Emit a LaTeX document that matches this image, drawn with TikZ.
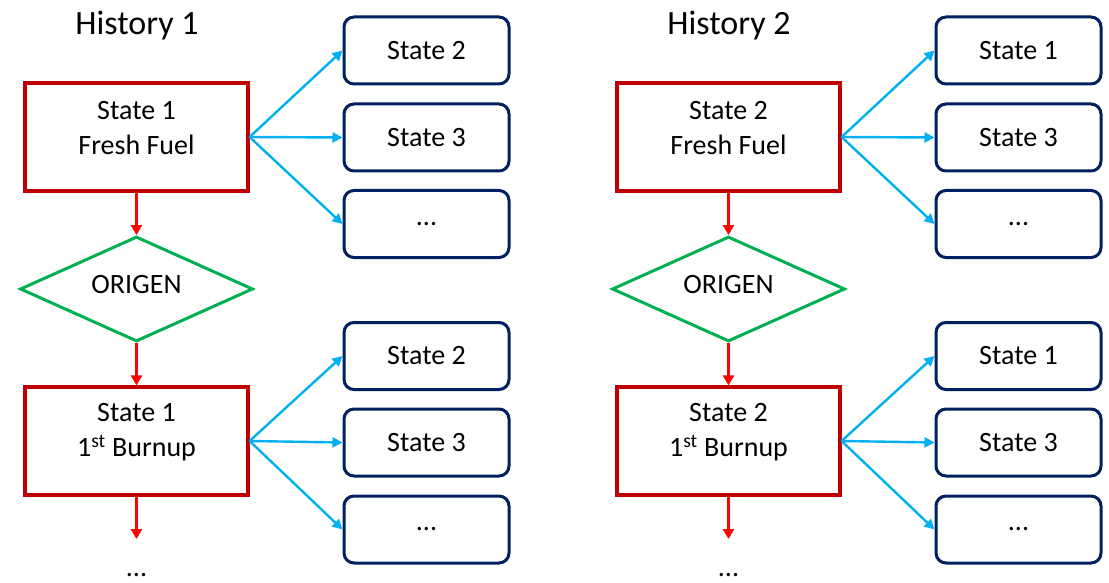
\documentclass[tikz,border=0pt]{standalone}
\usepackage{fontspec}
\setmainfont{Carlito}
\usetikzlibrary{arrows.meta,shapes.geometric}
\definecolor{boxred}{HTML}{C00000}
\definecolor{arrred}{HTML}{FF0000}
\definecolor{arrblue}{HTML}{00B0F0}
\definecolor{navy}{HTML}{002060}
\definecolor{dgreen}{HTML}{00B050}
\begin{document}
\begin{tikzpicture}[x=1pt,y=-1pt,
  redbox/.style={draw=boxred,line width=3.2pt,rectangle,minimum width=223pt,minimum height=108pt,inner sep=0pt},
  bluebox/.style={draw=navy,line width=3pt,rectangle,rounded corners=10pt,minimum width=165pt,minimum height=67pt,inner sep=0pt,font=\fontsize{28}{34}\selectfont},
  origen/.style={draw=dgreen,line width=3pt,diamond,minimum width=233pt,minimum height=105pt,inner sep=0pt},
  boxtext/.style={align=center,font=\fontsize{28}{35}\selectfont,inner sep=0pt},
  title/.style={font=\fontsize{34}{40}\selectfont,anchor=base,inner sep=0pt},
  dotstext/.style={font=\fontsize{28}{34}\selectfont,inner sep=0pt,anchor=base},
  redarr/.style={draw=arrred,line width=2.4pt,-{Triangle[length=10pt,width=11pt]}},
  bluearr/.style={draw=arrblue,line width=2.4pt,-{Triangle[length=10pt,width=10pt]}}]
\useasboundingbox (0,0) rectangle (1109,583);
\foreach \i/\dx/\m/\oa in {1/0/1/2, 2/592/2/1}{
  \begin{scope}[shift={(\dx,0)}]
  \node[title] (title\i) at (137,35) {History \i};
  % upper
  \node[redbox] (ra\i) at (136.5,137) {};
  \node[boxtext] (rat\i) at (136.5,128.5) {State \m\\Fresh Fuel};
  \node[bluebox] (ba\i) at (426.5,50.5) {State \oa};
  \node[bluebox] (bb\i) at (426.5,137.5) {State 3};
  \node[bluebox] (bc\i) at (426.5,224) {...};
  \node[origen] (d\i) at (136.5,289) {};
  \node[boxtext] (dt\i) at (136.5,285) {ORIGEN};
  % lower
  \node[redbox] (rb\i) at (136.5,441) {};
  \node[boxtext] (rbt\i) at (136.5,432.5) {State \m\\1\textsuperscript{st} Burnup};
  \node[bluebox] (bd\i) at (426.5,356) {State \oa};
  \node[bluebox] (be\i) at (426.5,442.5) {State 3};
  \node[bluebox] (bf\i) at (426.5,529.5) {...};
  \coordinate (end\i) at (136.5,539);
  \node[dotstext] (dots\i) at (136.5,576) {...};
  \end{scope}
  \draw[redarr] (ra\i.south) -- (d\i.north);
  \draw[redarr] (d\i.south) -- (rb\i.north);
  \draw[redarr] (rb\i.south) -- (end\i);
  \draw[bluearr] (ra\i.east) -- (ba\i.west);
  \draw[bluearr] (ra\i.east) -- (bb\i.west);
  \draw[bluearr] (ra\i.east) -- (bc\i.west);
  \draw[bluearr] (rb\i.east) -- (bd\i.west);
  \draw[bluearr] (rb\i.east) -- (be\i.west);
  \draw[bluearr] (rb\i.east) -- (bf\i.west);
}
\end{tikzpicture}
\end{document}
